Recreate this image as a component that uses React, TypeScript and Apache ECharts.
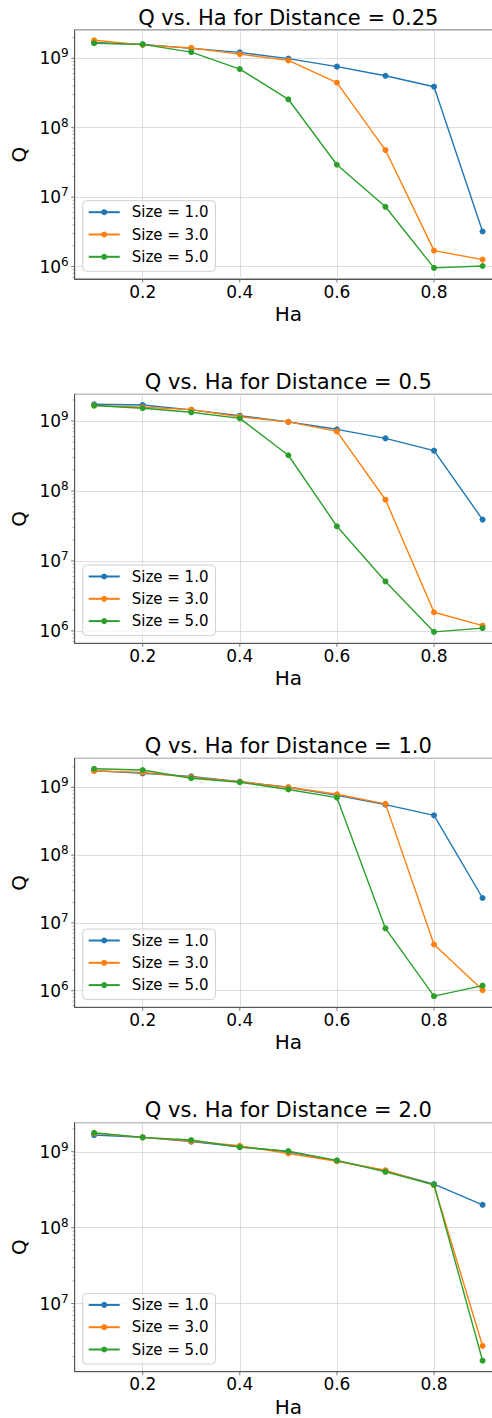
import React, { useEffect, useRef } from "react";
import * as echarts from "echarts";

// ---- data ----
const HA = [0.1, 0.2, 0.3, 0.4, 0.5, 0.6, 0.7, 0.8, 0.9];
const DISTANCES = ["0.25", "0.5", "1.0", "2.0"];
const SIZES = ["Size = 1.0", "Size = 3.0", "Size = 5.0"];

const D025_S1 = [1.68e9, 1.59e9, 1.39e9, 1.22e9, 9.9e8, 7.6e8, 5.6e8, 3.9e8, 3.2e6];
const D025_S3 = [1.82e9, 1.56e9, 1.41e9, 1.15e9, 9.35e8, 4.46e8, 4.77e7, 1.7e6, 1.26e6];
const D025_S5 = [1.65e9, 1.59e9, 1.23e9, 7.0e8, 2.57e8, 2.93e7, 7.26e6, 9.57e5, 1.02e6];

const D05_S1 = [1.73e9, 1.69e9, 1.44e9, 1.19e9, 9.7e8, 7.6e8, 5.65e8, 3.77e8, 3.9e7];
const D05_S3 = [1.67e9, 1.57e9, 1.45e9, 1.15e9, 9.7e8, 7.1e8, 7.5e7, 1.85e6, 1.19e6];
const D05_S5 = [1.66e9, 1.52e9, 1.33e9, 1.09e9, 3.24e8, 3.13e7, 5.1e6, 9.7e5, 1.1e6];

const D1_S1 = [1.76e9, 1.61e9, 1.45e9, 1.21e9, 1.0e9, 7.6e8, 5.55e8, 3.86e8, 2.33e7];
const D1_S3 = [1.74e9, 1.66e9, 1.41e9, 1.21e9, 1.0e9, 7.9e8, 5.7e8, 4.8e6, 1.02e6];
const D1_S5 = [1.88e9, 1.8e9, 1.36e9, 1.19e9, 9.3e8, 7.05e8, 8.3e6, 8.3e5, 1.19e6];

const D2_S1 = [1.66e9, 1.55e9, 1.36e9, 1.16e9, 1.0e9, 7.6e8, 5.6e8, 3.75e8, 2.0e8];
const D2_S3 = [1.75e9, 1.55e9, 1.38e9, 1.2e9, 9.5e8, 7.5e8, 5.7e8, 3.63e8, 2.77e6];
const D2_S5 = [1.78e9, 1.55e9, 1.43e9, 1.15e9, 1.02e9, 7.7e8, 5.45e8, 3.67e8, 1.77e6];

const PANELS = [
  [D025_S1, D025_S3, D025_S5],
  [D05_S1, D05_S3, D05_S5],
  [D1_S1, D1_S3, D1_S5],
  [D2_S1, D2_S3, D2_S5],
];

// axis limits (log10 exponents) and ticks
const Y_EXP_RANGES = [
  [5.821, 9.408],
  [5.824, 9.381],
  [5.755, 9.428],
  [6.103, 9.383],
];
const X_MIN = 0.06;
const X_MAX = 0.94;
const X_TICKS = [0.2, 0.4, 0.6, 0.8];
const Y_DECADES = [5, 6, 7, 8, 9];
const Y_MINOR_MULT = [2, 3, 4, 5, 6, 7, 8, 9];

// ---- style ----
const COLORS = ["#1f77b4", "#ff7f0e", "#2ca02c"];
const FONT = "DejaVu Sans";
const CHART_W = 502; // the figure is cropped on the right at 492
const GRID_TOPS = [30, 394.3, 758.3, 1122.7];
const GRID_H = 249;
const GRID_LEFT = 74.7;
const GRID_RIGHT = 0;
const SPINE = "#555555";
const GRIDLINE = "#d4d4d4";

export default function App() {
  const ref = useRef<HTMLDivElement>(null);
  useEffect(() => {
    if (!ref.current) return;
    const chart = echarts.init(ref.current, null, { renderer: "svg" });

    const grids: any[] = [];
    const xAxes: any[] = [];
    const yAxes: any[] = [];
    const titles: any[] = [];
    const legends: any[] = [];
    const series: any[] = [];

    PANELS.forEach((panel, i) => {
      const top = GRID_TOPS[i];
      const [e0, e1] = Y_EXP_RANGES[i];
      const yMin = Math.pow(10, e0);
      const yMax = Math.pow(10, e1);
      grids.push({
        left: GRID_LEFT,
        right: GRID_RIGHT,
        top,
        height: GRID_H,
        show: true,
        borderColor: SPINE,
        borderWidth: 1,
        backgroundColor: "transparent",
      });
      xAxes.push({
        type: "value",
        gridIndex: i,
        min: X_MIN,
        max: X_MAX,
        name: "Ha",
        nameLocation: "middle",
        nameGap: 25,
        nameTextStyle: { fontFamily: FONT, fontSize: 20, color: "#000" },
        axisLine: { show: true, lineStyle: { color: SPINE, width: 1 } },
        axisTick: { show: false },
        splitLine: { show: true, lineStyle: { color: GRIDLINE, width: 0.8 } },
        axisLabel: {
          fontFamily: FONT,
          fontSize: 17,
          color: "#000",
          margin: 4,
          showMinLabel: false,
          showMaxLabel: false,
          formatter: (v: number) => v.toFixed(1),
        },
      });
      yAxes.push({
        type: "log",
        logBase: 10,
        gridIndex: i,
        min: yMin,
        max: yMax,
        name: "Q",
        nameLocation: "middle",
        nameGap: 37,
        nameTextStyle: { fontFamily: FONT, fontSize: 20, color: "#000" },
        axisLine: { show: true, lineStyle: { color: SPINE, width: 1 } },
        axisTick: { show: false },
        splitLine: { show: true, lineStyle: { color: GRIDLINE, width: 0.8 } },
        axisLabel: {
          margin: 6,
          showMinLabel: false,
          showMaxLabel: false,
          formatter: (v: number) => "{b|10}{s|" + Math.round(Math.log10(v)) + "}",
          rich: {
            b: { fontFamily: FONT, fontSize: 17, color: "#000", lineHeight: 22 },
            s: { fontFamily: FONT, fontSize: 12, color: "#000", lineHeight: 12, verticalAlign: "top" },
          },
        },
      });
      titles.push({
        text: "Q vs. Ha for Distance = " + DISTANCES[i],
        left: 288.3,
        textAlign: "center",
        top: top - 23,
        padding: 0,
        textStyle: { fontFamily: FONT, fontSize: 21, fontWeight: "normal", color: "#000" },
      });
      legends.push({
        orient: "vertical",
        left: 82.7,
        top: top + 170.7,
        data: SIZES,
        itemWidth: 31,
        itemHeight: 7.5,
        itemGap: 7.3,
        padding: [4, 7, 7, 5],
        backgroundColor: "rgba(255,255,255,0.8)",
        borderColor: "#d0d0d0",
        borderWidth: 1,
        borderRadius: 4,
        selectedMode: false,
        textStyle: { fontFamily: FONT, fontSize: 15, color: "#000", lineHeight: 15, padding: [0, 0, 0, 7] },
      });
      panel.forEach((vals, k) => {
        series.push({
          type: "line",
          name: SIZES[k],
          xAxisIndex: i,
          yAxisIndex: i,
          data: HA.map((x, j) => [x, vals[j]]),
          symbol: "circle",
          symbolSize: 6,
          showSymbol: true,
          color: COLORS[k],
          lineStyle: { width: 1.4, color: COLORS[k] },
          itemStyle: { color: COLORS[k] },
          z: 3 + k,
        });
      });
      // axis tick marks drawn through the axes' own coordinate system
      const tickData: any[] = [];
      Y_DECADES.forEach((d) => {
        const major = Math.pow(10, d);
        if (major >= yMin && major <= yMax) tickData.push([X_MIN, major, 0]);
        Y_MINOR_MULT.forEach((m) => {
          const v = m * major;
          if (v >= yMin && v <= yMax) tickData.push([X_MIN, v, 1]);
        });
      });
      X_TICKS.forEach((x) => tickData.push([x, yMin, 2]));
      series.push({
        type: "custom",
        xAxisIndex: i,
        yAxisIndex: i,
        silent: true,
        clip: false,
        data: tickData,
        encode: { x: 0, y: 1 },
        z: 10,
        renderItem: (params: any, api: any) => {
          const p = api.coord([api.value(0), api.value(1)]);
          const kind = api.value(2);
          let shape;
          if (kind === 0) shape = { x1: p[0] - 3.5, y1: p[1], x2: p[0], y2: p[1] };
          else if (kind === 1) shape = { x1: p[0] - 2, y1: p[1], x2: p[0], y2: p[1] };
          else shape = { x1: p[0], y1: p[1], x2: p[0], y2: p[1] + 3.5 };
          return {
            type: "line",
            shape,
            style: { stroke: SPINE, lineWidth: kind === 1 ? 0.6 : 0.8 },
          };
        },
      });
    });

    chart.setOption({
      animation: false,
      backgroundColor: "#ffffff",
      title: titles,
      legend: legends,
      grid: grids,
      xAxis: xAxes,
      yAxis: yAxes,
      series,
    });
    return () => chart.dispose();
  }, []);

  return (
    <div style={{ position: "absolute", left: 0, top: 0, width: 492, height: 1418, overflow: "hidden", background: "#fff" }}>
      <div ref={ref} style={{ width: CHART_W, height: 1418 }} />
    </div>
  );
}
